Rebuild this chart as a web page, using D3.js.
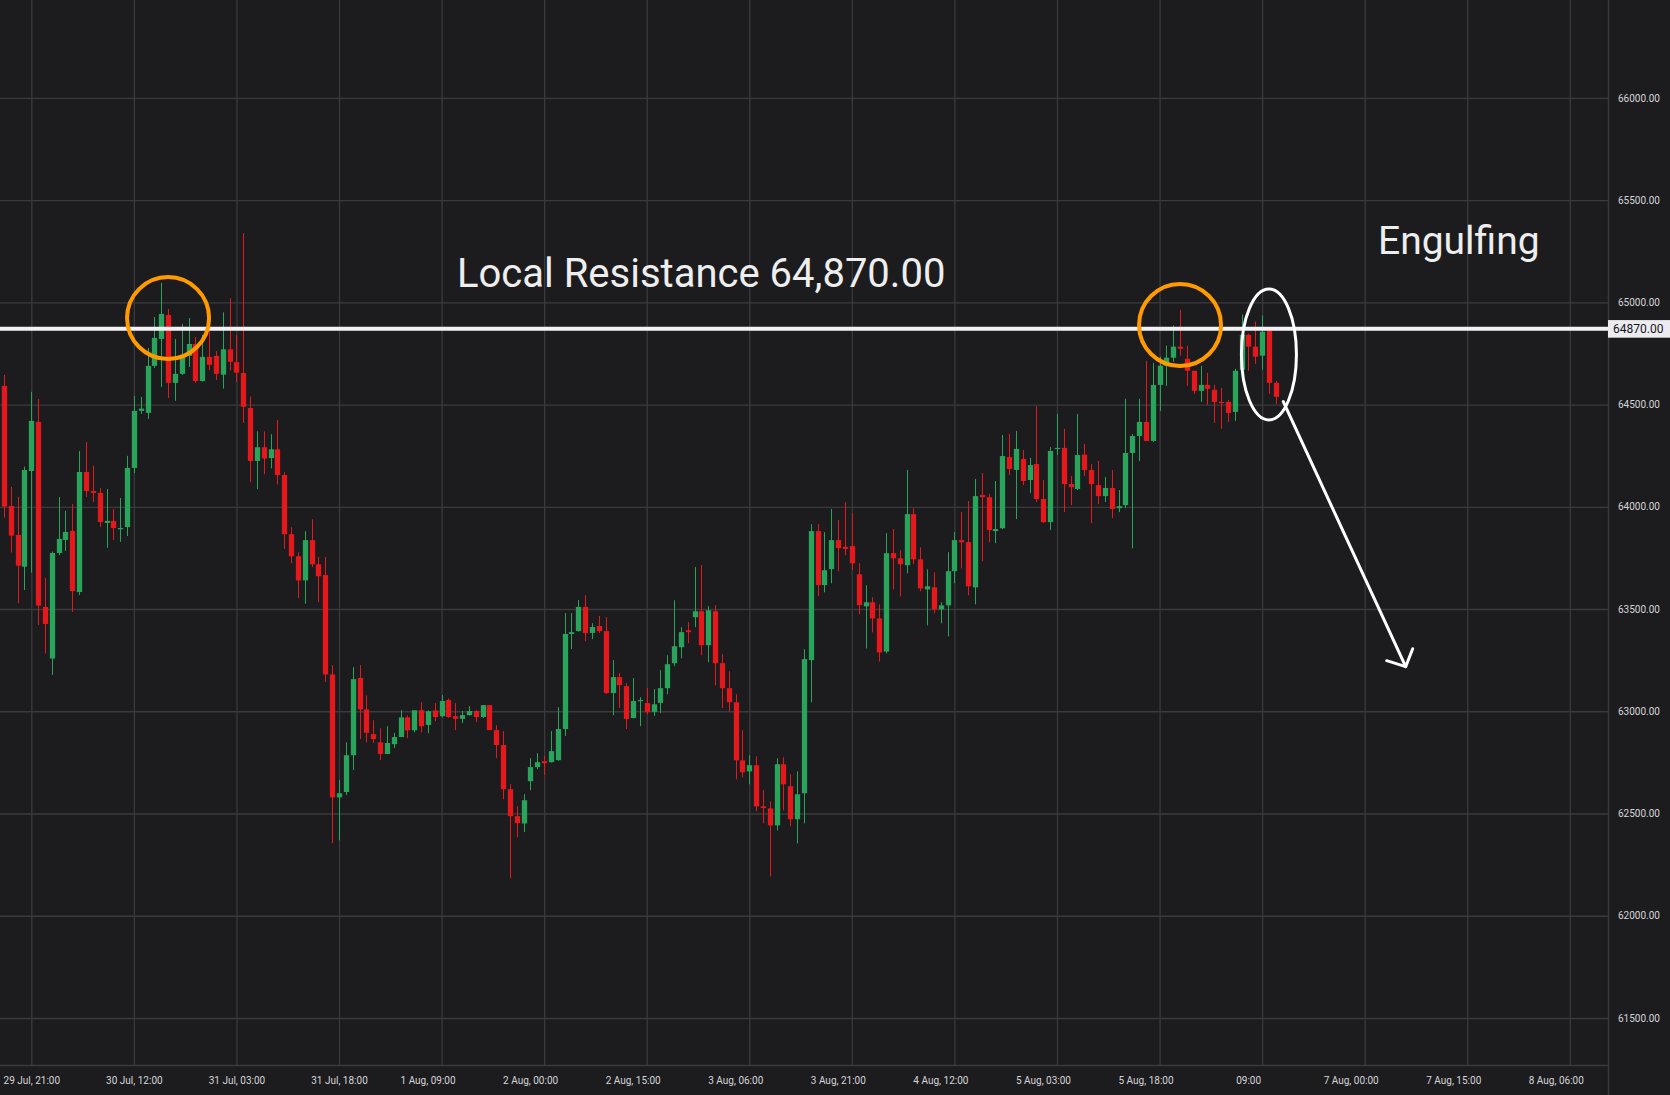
<!DOCTYPE html>
<html>
<head>
<meta charset="utf-8">
<script src="https://cdn.jsdelivr.net/npm/d3@7"></script>
<style>
html, body { margin: 0; padding: 0; background: #1c1c1f; }
svg { display: block; font-family: Roboto, "Open Sans", sans-serif; }
</style>
</head>
<body>
<script>
// hourly candles, 29 Jul 17:00 -> 6 Aug 11:00
var firstCandle = "2024-07-29T17:00:00Z";
var lastCandle = "2024-08-06T11:00:00Z";

var opens = [64591,64004,63862,63707,64175,64415,63510,63258,63774,63838,63882,63583,64170,64077,64068,63921,63931,63892,63901,64190,
  64469,64459,64689,64821,64938,64606,64650,64738,64796,64615,64733,64738,64646,64770,64707,64654,64483,64224,64291,64238,
  64281,64155,63866,63758,63640,63837,63719,63666,63180,62579,62605,62785,63163,63009,62888,62848,62791,62839,62874,62970,
  62907,63005,62933,63004,62976,63055,62976,62963,62981,63001,62972,63030,62908,62835,62619,62487,62451,62658,62727,62756,
  62751,62761,62913,63378,63392,63510,63383,63417,63392,63089,63167,63123,62967,63050,63040,62997,63041,63113,63235,63313,
  63396,63460,63489,63323,63489,63235,63113,63044,62760,62706,62736,62535,62525,62442,62741,62633,62472,62599,63250,63881,
  63617,63695,63837,63804,63808,63670,63513,63533,63454,63292,63773,63748,63714,63964,63743,63596,63606,63498,63518,63685,
  63837,63827,63606,64057,64047,63881,63895,64243,64180,64234,64131,64209,64038,63925,64284,64288,64111,64087,64255,64180,
  64106,64052,64092,63993,64008,64263,64346,64415,64322,64596,64690,64729,64783,64724,64665,64567,64596,64572,64513,64513,
  64464,64670,64841,64783,64739,64861,64606];
var highs = [64645,64097,64048,64196,64562,64527,63652,63781,64048,63980,64014,64273,64317,64200,64092,64087,63989,64043,64249,64542,
  64537,64777,64928,65095,64967,64821,64894,64923,64830,64840,64860,64762,64951,65020,64839,65338,64540,64369,64369,64355,
  64424,64169,63900,63778,63880,63939,63754,63754,63226,62664,62848,63216,63226,63078,62956,62917,62927,62894,63005,62980,
  63005,63045,63005,63040,63079,63063,63040,63001,63025,63006,63030,63030,62932,62903,62644,62536,62595,62771,62795,62781,
  62903,63020,63480,63480,63544,63568,63431,63466,63461,63250,63187,63138,63162,63069,63113,63108,63201,63274,63543,63411,
  63436,63705,63715,63514,63519,63279,63196,63083,62907,62785,62780,62614,62560,62770,62775,62692,62706,63303,63915,63915,
  63876,63989,63935,64023,63969,63724,63616,63557,63523,63871,63891,63788,64180,63993,63802,63694,63680,63533,63778,63876,
  63974,64028,64136,64165,64062,64126,64351,64356,64371,64278,64239,64493,64131,64292,64454,64381,64150,64454,64307,64209,
  64224,64145,64180,64082,64528,64356,64528,64714,64704,64734,64788,64886,64964,64788,64665,64690,64655,64596,64582,64523,
  64675,64940,64846,64905,64935,64866,64616];
var lows = [63947,63776,63528,63593,63678,63422,63282,63178,63764,63784,63486,63569,64048,64024,63901,63799,63838,63828,63857,64165,
  64454,64430,64679,64586,64532,64518,64645,64684,64606,64612,64669,64620,64578,64666,64611,64410,64120,64086,64159,64188,
  64110,63794,63725,63554,63526,63705,63534,63143,62355,62369,62591,62713,62864,62848,62845,62762,62791,62821,62874,62868,
  62897,62897,62893,62952,62970,62968,62908,62942,62979,62947,62967,62908,62771,62570,62184,62384,62409,62614,62717,62688,
  62749,62758,62879,63304,63390,63343,63353,63383,63085,62981,63016,62913,62965,62927,62986,62977,62992,63083,63220,63259,
  63333,63411,63274,63240,63127,63015,63000,62667,62677,62643,62511,62452,62193,62418,62516,62437,62354,62452,63044,63563,
  63582,63626,63685,63763,63690,63475,63307,63386,63243,63283,63596,63562,63675,63719,63587,63420,63479,63430,63366,63626,
  63699,63567,63523,63734,63827,63822,63891,64155,63940,64106,64067,64023,63920,63886,64253,63974,64008,64082,64150,63920,
  64013,64023,63944,63974,63993,63797,64224,64322,64317,64469,64591,64709,64739,64591,64552,64513,64498,64410,64381,64415,
  64420,64670,64665,64699,64670,64552,64503];
var closes = [64001,63859,63712,64180,64420,63517,63427,63774,63843,63877,63588,64170,64077,64068,63926,63931,63896,63896,64190,64469,
  64480,64689,64826,64943,64606,64650,64728,64796,64615,64733,64694,64650,64770,64709,64656,64489,64224,64291,64236,64281,
  64155,63866,63758,63640,63837,63719,63660,63180,62579,62599,62785,63157,63009,62895,62864,62791,62845,62874,62970,62907,
  63005,62927,63000,62972,63050,62972,62963,62981,63001,62972,63030,62908,62835,62619,62487,62453,62565,62727,62751,62746,
  62805,62913,63378,63387,63510,63383,63412,63392,63089,63167,63128,62962,63050,63055,62996,63034,63113,63230,63318,63387,
  63387,63489,63323,63494,63235,63113,63044,62760,62702,62736,62535,62527,62442,62741,62643,62472,62594,63255,63881,63617,
  63690,63837,63798,63794,63724,63519,63533,63454,63288,63773,63748,63719,63964,63743,63601,63611,63498,63518,63685,63837,
  63827,63611,64052,64047,63886,63891,64248,64185,64283,64126,64204,64038,63925,64273,64288,64111,64096,64253,64180,64111,
  64052,64092,63989,64003,64263,64346,64415,64322,64596,64690,64729,64783,64773,64665,64567,64596,64577,64513,64508,64459,
  64665,64841,64783,64734,64856,64606,64538];

var priceTicks = [61500,62000,62500,63000,63500,64000,64500,65000,65500,66000];
var timeTicks = ["2024-07-29T21:00:00Z","2024-07-30T12:00:00Z","2024-07-31T03:00:00Z","2024-07-31T18:00:00Z",
  "2024-08-01T09:00:00Z","2024-08-02T00:00:00Z","2024-08-02T15:00:00Z","2024-08-03T06:00:00Z",
  "2024-08-03T21:00:00Z","2024-08-04T12:00:00Z","2024-08-05T03:00:00Z","2024-08-05T18:00:00Z",
  "2024-08-06T09:00:00Z","2024-08-07T00:00:00Z","2024-08-07T15:00:00Z","2024-08-08T06:00:00Z"];
var timeTickLabels = ["29 Jul, 21:00","30 Jul, 12:00","31 Jul, 03:00","31 Jul, 18:00","1 Aug, 09:00","2 Aug, 00:00",
  "2 Aug, 15:00","3 Aug, 06:00","3 Aug, 21:00","4 Aug, 12:00","5 Aug, 03:00","5 Aug, 18:00","09:00",
  "7 Aug, 00:00","7 Aug, 15:00","8 Aug, 06:00"];

var resistance = 64870;
var resistanceText = "Local Resistance 64,870.00";
var patternText = "Engulfing";

var svgWidth = 1670;
var svgHeight = 1095;
var plotRight = 1608;
var plotBottom = 1065;

var bg = "#1c1c1f", gridColor = "#3a3a3d", textColor = "#d6d6d8";
var upColor = "#28a55a", downColor = "#e5191c";

var times = d3.utcHour.range(new Date(firstCandle), d3.utcHour.offset(new Date(lastCandle), 1));
var candles = times.map(function(t, i) {
  return {t: t, o: opens[i], h: highs[i], l: lows[i], c: closes[i]};
});

var xScale = d3.scaleUtc()
  .domain([new Date(timeTicks[0]), new Date(timeTicks[timeTicks.length - 1])])
  .range([31.3, 1569.8]);

var yScale = d3.scaleLinear()
  .domain([61500, 66000])
  .range([1018, 97.8]);

var svg = d3.select("body").append("svg")
  .attr("width", svgWidth)
  .attr("height", svgHeight);

svg.append("rect").attr("width", svgWidth).attr("height", svgHeight).attr("fill", bg);

var tickDates = timeTicks.map(function(d){ return new Date(d); });

// grid
var xGrid = svg.append("g")
  .attr("transform", "translate(0," + plotBottom + ")")
  .call(d3.axisBottom(xScale).tickValues(tickDates).tickSize(-plotBottom).tickFormat(""));
var yGrid = svg.append("g")
  .call(d3.axisLeft(yScale).tickValues(priceTicks).tickSize(-plotRight).tickFormat(""));
yGrid.selectAll(".tick line").attr("x1", 0).attr("x2", plotRight);
[xGrid, yGrid].forEach(function(g) {
  g.select(".domain").remove();
  g.selectAll(".tick line").attr("stroke", gridColor).attr("stroke-width", 1.3);
});

// axes
var xAxis = svg.append("g")
  .attr("transform", "translate(0," + plotBottom + ")")
  .call(d3.axisBottom(xScale).tickValues(tickDates)
    .tickSize(0).tickPadding(12)
    .tickFormat(function(d, i) { return timeTickLabels[i]; }));
xAxis.select(".domain").attr("stroke", gridColor).attr("stroke-width", 1.5).attr("d", "M0,0.5H" + plotRight);
// the August labels sit a bit left of their grid line in the original
xAxis.selectAll("text")
  .attr("fill", textColor).attr("font-size", 10).attr("font-family", "Roboto")
  .attr("dx", function(d, i) { return timeTickLabels[i].indexOf("Jul") >= 0 ? 0 : -14; });

var yAxis = svg.append("g")
  .attr("transform", "translate(" + plotRight + ",0)")
  .call(d3.axisRight(yScale).tickValues(priceTicks).tickSize(0).tickPadding(10)
    .tickFormat(d3.format(".2f")));
yAxis.select(".domain").attr("stroke", gridColor).attr("stroke-width", 1.5).attr("d", "M0.5,0V" + svgHeight);
yAxis.selectAll("text").attr("fill", textColor).attr("font-size", 10).attr("font-family", "Roboto");

// candles
var bodyW = 5.3;
var cg = svg.append("g");
var cs = cg.selectAll("g").data(candles).enter().append("g");
cs.append("line")
  .attr("x1", function(d){ return Math.round(xScale(d.t)) + 0.5; })
  .attr("x2", function(d){ return Math.round(xScale(d.t)) + 0.5; })
  .attr("y1", function(d){ return yScale(d.h); })
  .attr("y2", function(d){ return yScale(d.l); })
  .attr("stroke", function(d){ return d.c >= d.o ? upColor : downColor; })
  .attr("stroke-width", 1);
cs.append("rect")
  .attr("x", function(d){ return Math.round(xScale(d.t)) + 0.5 - bodyW / 2; })
  .attr("y", function(d){ return yScale(Math.max(d.o, d.c)); })
  .attr("width", bodyW)
  .attr("height", function(d){ return Math.max(1.2, Math.abs(yScale(d.o) - yScale(d.c))); })
  .attr("fill", function(d){ return d.c >= d.o ? upColor : downColor; });

// resistance line
svg.append("line")
  .attr("x1", 0).attr("x2", plotRight)
  .attr("y1", yScale(resistance)).attr("y2", yScale(resistance))
  .attr("stroke", "#f2f2f6").attr("stroke-width", 4);

svg.append("rect")
  .attr("x", plotRight).attr("y", yScale(resistance) - 8.8)
  .attr("width", svgWidth - plotRight).attr("height", 17.6)
  .attr("fill", "#ececf0");
svg.append("text")
  .attr("x", plotRight + 5).attr("y", yScale(resistance) + 4.3)
  .attr("font-size", 12).attr("fill", "#16161a")
  .text(d3.format(".2f")(resistance));

// annotations
svg.append("circle")
  .attr("cx", xScale(new Date("2024-07-30T17:00:00Z"))).attr("cy", yScale(64923))
  .attr("r", 41).attr("fill", "none").attr("stroke", "#ff9a00").attr("stroke-width", 4);
svg.append("circle")
  .attr("cx", xScale(new Date("2024-08-05T21:00:00Z"))).attr("cy", yScale(64889))
  .attr("r", 41).attr("fill", "none").attr("stroke", "#ff9a00").attr("stroke-width", 4);
svg.append("ellipse")
  .attr("cx", xScale(new Date("2024-08-06T10:00:00Z"))).attr("cy", yScale(64745))
  .attr("rx", 27.5).attr("ry", 65.5)
  .attr("fill", "none").attr("stroke", "#ffffff").attr("stroke-width", 3);

var ax1 = xScale(new Date("2024-08-06T12:06:00Z")), ay1 = yScale(64514);
var ax2 = xScale(new Date("2024-08-07T06:00:00Z")), ay2 = yScale(63218);
svg.append("line")
  .attr("x1", ax1).attr("y1", ay1).attr("x2", ax2).attr("y2", ay2)
  .attr("stroke", "#ffffff").attr("stroke-width", 3).attr("stroke-linecap", "round");
svg.append("path")
  .attr("d", "M" + (ax2 - 19) + "," + (ay2 - 6) + "L" + ax2 + "," + ay2 + "L" + (ax2 + 7) + "," + (ay2 - 18))
  .attr("fill", "none").attr("stroke", "#ffffff").attr("stroke-width", 3)
  .attr("stroke-linecap", "round").attr("stroke-linejoin", "round");

svg.append("text")
  .attr("x", 457).attr("y", 287)
  .attr("font-size", 40).attr("fill", "#eeeeee")
  .text(resistanceText);
svg.append("text")
  .attr("x", 1378).attr("y", 254)
  .attr("font-size", 39).attr("fill", "#eeeeee")
  .text(patternText);
</script>
</body>
</html>
